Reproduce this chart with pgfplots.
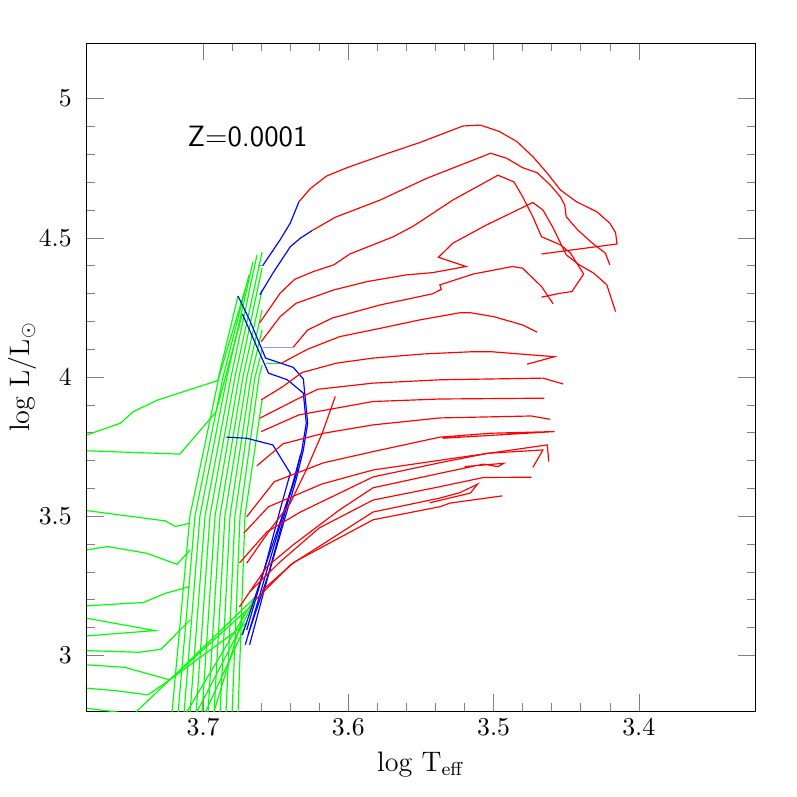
\documentclass[border=0pt]{standalone}
\usepackage{pgfplots}
\pgfplotsset{compat=1.18}
\definecolor{lblue}{RGB}{150,150,255}
\begin{document}
\begin{tikzpicture}
\begin{axis}[
    scale only axis, width=10cm, height=10cm,
    x dir=reverse, xmin=3.32, xmax=3.78, ymin=2.8, ymax=5.2,
    xtick={3.4,3.5,3.6,3.7}, ytick={3,3.5,4,4.5,5},
    minor x tick num=4, minor y tick num=4,
    major tick length=0.25cm, minor tick length=0.12cm,
    xticklabel style={/pgf/number format/fixed, /pgf/number format/precision=1},
    yticklabel style={/pgf/number format/fixed, /pgf/number format/precision=1, xshift=-3pt},
    tick label style={font=\fontsize{11}{13}\selectfont},
    label style={font=\fontsize{12}{14}\selectfont},
    xlabel={log T$_{\mathrm{eff}}$},
    ylabel={log L/L$_\odot$},
    ylabel style={at={(axis description cs:0,0.5)}, anchor=center, yshift=0.97cm},
    no markers,
    every axis plot/.append style={line width=0.5pt},
]
\coordinate (sw) at (rel axis cs:0,0);
\coordinate (ne) at (rel axis cs:1,1);

% --- green tracks coming in from the left
\addplot[green] coordinates {(3.78,3.792) (3.757,3.834) (3.748,3.876) (3.731,3.918) (3.690,3.987) (3.676,4.291)};
\addplot[green] coordinates {(3.78,3.735) (3.716,3.723) (3.691,3.876) (3.673,4.227)};
\addplot[green] coordinates {(3.78,3.520) (3.726,3.483) (3.719,3.463) (3.709,3.475)};
\addplot[green] coordinates {(3.78,3.379) (3.766,3.391) (3.739,3.367) (3.718,3.327) (3.709,3.379)};
\addplot[green] coordinates {(3.78,3.178) (3.741,3.190) (3.726,3.223) (3.709,3.247)};
\addplot[green] coordinates {(3.78,3.133) (3.733,3.089) (3.78,3.070)};
\addplot[green] coordinates {(3.78,3.017) (3.744,3.011) (3.729,3.022) (3.709,3.127)};
\addplot[green] coordinates {(3.78,2.966) (3.754,2.957) (3.723,2.912) (3.664,3.210)};
\addplot[green] coordinates {(3.78,2.882) (3.760,2.873) (3.738,2.858) (3.723,2.912) (3.666,3.181)};
\addplot[green] coordinates {(3.746,2.798) (3.723,2.912) (3.670,3.116)};
\addplot[green] coordinates {(3.78,2.810) (3.750,2.790)};
% steep green lines
\addplot[green] coordinates {(3.7215,2.79) (3.7091,3.501) (3.6891,4.000) (3.6712,4.313)};
\addplot[green] coordinates {(3.7173,2.79) (3.7056,3.501) (3.6863,4.000) (3.6684,4.367)};
\addplot[green] coordinates {(3.7132,2.79) (3.7022,3.501) (3.6836,4.000) (3.6657,4.414)};
\addplot[green] coordinates {(3.7091,2.79) (3.6987,3.501) (3.6808,4.000) (3.6629,4.439)};
\addplot[green] coordinates {(3.7049,2.79) (3.6953,3.501) (3.6781,4.000) (3.6594,4.449)};
\addplot[green] coordinates {(3.7008,2.79) (3.6918,3.501) (3.6753,4.000) (3.6594,4.392)};
\addplot[green] coordinates {(3.6967,2.79) (3.6884,3.501) (3.6726,4.000) (3.6594,4.313)};
\addplot[green] coordinates {(3.6925,2.79) (3.6850,3.501) (3.6698,4.000) (3.6594,4.241)};
\addplot[green] coordinates {(3.6884,2.79) (3.6815,3.501) (3.6670,4.000) (3.6594,4.169)};
\addplot[green] coordinates {(3.6843,2.79) (3.6781,3.501) (3.6643,4.000) (3.6594,4.097)};
\addplot[green] coordinates {(3.6801,2.79) (3.6746,3.501) (3.6615,4.000) (3.6594,4.043)};
\addplot[green] coordinates {(3.6760,2.79) (3.6712,3.501) (3.6594,3.918)};
\addplot[green] coordinates {(3.712,2.79) (3.664,3.210)};
\addplot[green] coordinates {(3.705,2.79) (3.666,3.181)};
\addplot[green] coordinates {(3.699,2.79) (3.670,3.116)};
\addplot[green] coordinates {(3.693,2.79) (3.672,3.150)};
\addplot[green] coordinates {(3.657,4.050) (3.646,4.050)};
\addplot[green] coordinates {(3.662,4.400) (3.659,4.400)};

% --- blue
\addplot[blue] coordinates {(3.659,4.400) (3.647,4.493) (3.640,4.553) (3.634,4.630)};
\addplot[blue] coordinates {(3.661,4.295) (3.652,4.373) (3.640,4.468) (3.633,4.499) (3.625,4.526)};
\addplot[blue] coordinates {(3.676,4.291) (3.668,4.205) (3.657,4.068) (3.638,4.035) (3.631,3.993) (3.628,3.834) (3.631,3.738) (3.636,3.630) (3.644,3.487) (3.654,3.307) (3.668,3.091) (3.671,3.038)};
\addplot[blue] coordinates {(3.673,4.227) (3.660,4.073) (3.655,4.014) (3.642,3.990) (3.631,3.942) (3.629,3.834) (3.632,3.738) (3.637,3.630) (3.646,3.487) (3.656,3.307) (3.669,3.073)};
\addplot[blue] coordinates {(3.684,3.784) (3.670,3.780) (3.652,3.756) (3.640,3.654) (3.647,3.523) (3.657,3.325) (3.670,3.091)};
\addplot[blue] coordinates {(3.635,3.666) (3.673,3.073)};
\addplot[blue] coordinates {(3.633,3.720) (3.668,3.038)};
\addplot[lblue] coordinates {(3.659,4.107) (3.638,4.107)};

% --- red
\addplot[red] coordinates {(3.634,4.630) (3.626,4.678) (3.615,4.722) (3.601,4.752) (3.576,4.798) (3.551,4.842) (3.521,4.902) (3.509,4.905) (3.496,4.882) (3.484,4.846) (3.473,4.792) (3.463,4.732) (3.454,4.672) (3.443,4.630) (3.429,4.594) (3.420,4.553) (3.416,4.519) (3.415,4.478) (3.467,4.442)};
\addplot[red] coordinates {(3.625,4.526) (3.609,4.574) (3.578,4.636) (3.546,4.714) (3.502,4.804) (3.491,4.786) (3.480,4.752) (3.470,4.734) (3.461,4.690) (3.454,4.647) (3.451,4.618) (3.450,4.576) (3.442,4.528) (3.432,4.481) (3.423,4.445) (3.420,4.403)};
\addplot[red] coordinates {(3.661,4.195) (3.647,4.301) (3.637,4.351) (3.624,4.379) (3.610,4.403) (3.599,4.442) (3.569,4.504) (3.555,4.543) (3.528,4.636) (3.497,4.725) (3.486,4.701) (3.480,4.648) (3.473,4.576) (3.467,4.504) (3.454,4.475) (3.447,4.445) (3.438,4.370) (3.446,4.307) (3.454,4.301) (3.467,4.287)};
\addplot[red] coordinates {(3.660,4.127) (3.647,4.217) (3.636,4.265) (3.610,4.313) (3.587,4.343) (3.560,4.367) (3.542,4.375) (3.519,4.397) (3.538,4.430) (3.528,4.481) (3.505,4.546) (3.473,4.627) (3.466,4.600) (3.459,4.536) (3.450,4.439) (3.441,4.403) (3.431,4.373) (3.422,4.331) (3.416,4.235)};
\addplot[red] coordinates {(3.638,4.107) (3.628,4.169) (3.611,4.212) (3.578,4.259) (3.542,4.299) (3.536,4.315) (3.537,4.331) (3.514,4.370) (3.487,4.397) (3.480,4.391) (3.467,4.325) (3.459,4.263)};
\addplot[red] coordinates {(3.646,4.050) (3.628,4.100) (3.606,4.145) (3.578,4.175) (3.551,4.205) (3.523,4.231) (3.516,4.231) (3.500,4.217) (3.480,4.187) (3.470,4.161)};
\addplot[red] coordinates {(3.660,3.918) (3.645,3.966) (3.632,4.016) (3.608,4.050) (3.583,4.068) (3.548,4.083) (3.514,4.091) (3.502,4.091) (3.458,4.073) (3.477,4.046)};
\addplot[red] coordinates {(3.661,3.852) (3.634,3.924) (3.621,3.956) (3.583,3.978) (3.537,3.990) (3.466,3.996) (3.452,3.975)};
\addplot[red] coordinates {(3.660,3.804) (3.634,3.864) (3.583,3.912) (3.537,3.921) (3.465,3.924)};
\addplot[red] coordinates {(3.663,3.681) (3.645,3.760) (3.617,3.798) (3.583,3.828) (3.537,3.853) (3.474,3.860) (3.461,3.848)};
\addplot[red] coordinates {(3.670,3.498) (3.651,3.624) (3.617,3.692) (3.583,3.732) (3.537,3.784) (3.502,3.798) (3.458,3.804) (3.535,3.780)};
\addplot[red] coordinates {(3.672,3.439) (3.655,3.534) (3.618,3.616) (3.583,3.666) (3.525,3.710) (3.463,3.756) (3.462,3.696)};
\addplot[red] coordinates {(3.675,3.332) (3.656,3.444) (3.633,3.515) (3.583,3.641) (3.537,3.692) (3.504,3.726) (3.466,3.738) (3.473,3.675)};
\addplot[red] coordinates {(3.675,3.174) (3.656,3.319) (3.638,3.397) (3.606,3.523) (3.583,3.602) (3.537,3.654) (3.507,3.687) (3.497,3.678) (3.493,3.690) (3.520,3.678)};
\addplot[red] coordinates {(3.668,3.228) (3.647,3.336) (3.620,3.458) (3.583,3.558) (3.537,3.606) (3.507,3.639) (3.474,3.640)};
\addplot[red] coordinates {(3.664,3.199) (3.640,3.325) (3.583,3.515) (3.537,3.565) (3.523,3.585) (3.511,3.615) (3.516,3.583) (3.544,3.548)};
\addplot[red] coordinates {(3.659,3.235) (3.637,3.336) (3.583,3.487) (3.537,3.534) (3.530,3.547) (3.494,3.573)};
\addplot[red] coordinates {(3.609,3.930) (3.618,3.798) (3.629,3.666) (3.640,3.547) (3.654,3.451) (3.670,3.331)};

\node[anchor=west, inner sep=0pt, font=\fontsize{12.5}{15}\selectfont\sffamily] at (axis cs:3.711,4.863) {Z=0.0001};
\end{axis}
\pgfresetboundingbox
\path ([shift={(-1.302cm,-1.287cm)}]sw) rectangle ([shift={(0.629cm,0.644cm)}]ne);
\end{tikzpicture}
\end{document}
